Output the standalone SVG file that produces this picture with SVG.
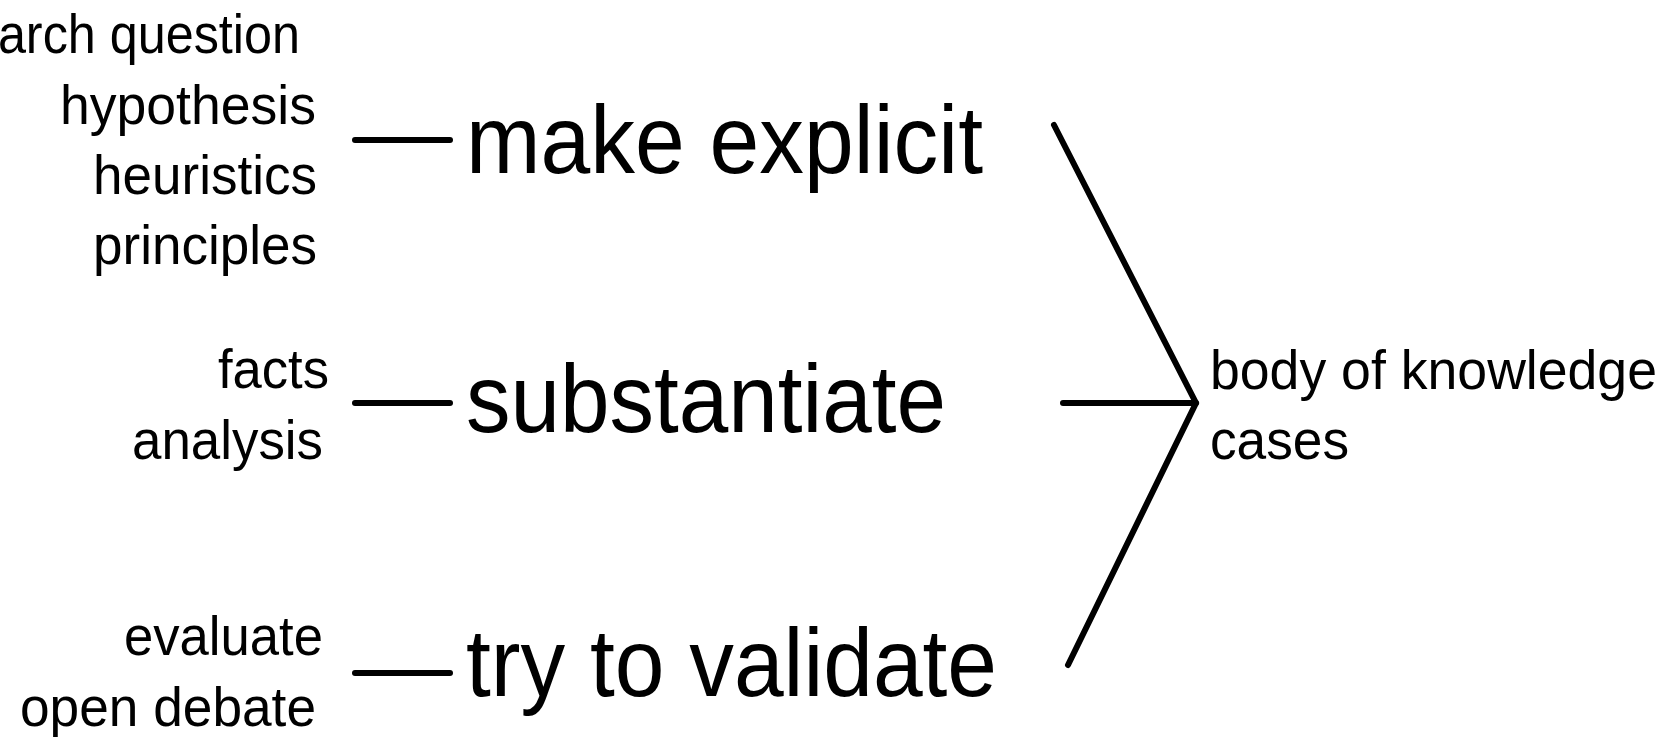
<svg xmlns="http://www.w3.org/2000/svg" width="1673" height="737" viewBox="0 0 1673 737">
<style>
.s{font-family:"Liberation Sans",Arial,sans-serif;font-size:55px;fill:#000}
.b{font-family:"Liberation Sans",Arial,sans-serif;font-size:97px;fill:#000}
.ln{stroke:#000;stroke-width:6;stroke-linecap:round;stroke-linejoin:miter;fill:none}
</style>
<rect width="1673" height="737" fill="#fff"/>
<g id="inputs-explicit">
<text class="s" x="-100" y="53" textLength="400" lengthAdjust="spacingAndGlyphs">research question</text>
<text class="s" x="60" y="124" textLength="256" lengthAdjust="spacingAndGlyphs">hypothesis</text>
<text class="s" x="93" y="194" textLength="224" lengthAdjust="spacingAndGlyphs">heuristics</text>
<text class="s" x="93" y="264" textLength="224" lengthAdjust="spacingAndGlyphs">principles</text>
</g>
<g id="inputs-substantiate">
<text class="s" x="218" y="388" textLength="111" lengthAdjust="spacingAndGlyphs">facts</text>
<text class="s" x="132" y="459" textLength="191" lengthAdjust="spacingAndGlyphs">analysis</text>
</g>
<g id="inputs-validate">
<text class="s" x="124" y="655" textLength="199" lengthAdjust="spacingAndGlyphs">evaluate</text>
<text class="s" x="20" y="726" textLength="296" lengthAdjust="spacingAndGlyphs">open debate</text>
</g>
<g id="make-explicit">
<text class="b" x="466" y="173" textLength="517" lengthAdjust="spacingAndGlyphs">make explicit</text>
</g>
<g id="substantiate">
<text class="b" x="466" y="432" textLength="480" lengthAdjust="spacingAndGlyphs">substantiate</text>
</g>
<g id="try-to-validate">
<text class="b" x="466" y="696" textLength="531" lengthAdjust="spacingAndGlyphs">try to validate</text>
</g>
<g id="body-of-knowledge">
<text class="s" x="1210" y="389" textLength="447" lengthAdjust="spacingAndGlyphs">body of knowledge</text>
<text class="s" x="1210" y="459" textLength="139" lengthAdjust="spacingAndGlyphs">cases</text>
</g>
<g id="connectors">
<line class="ln" x1="355" y1="140" x2="450" y2="140"/>
<line class="ln" x1="355" y1="403" x2="450" y2="403"/>
<line class="ln" x1="355" y1="673" x2="450" y2="673"/>
<polyline class="ln" points="1054,125 1196,403 1068,665"/>
<line class="ln" x1="1063" y1="403" x2="1196" y2="403"/>
</g>
</svg>
